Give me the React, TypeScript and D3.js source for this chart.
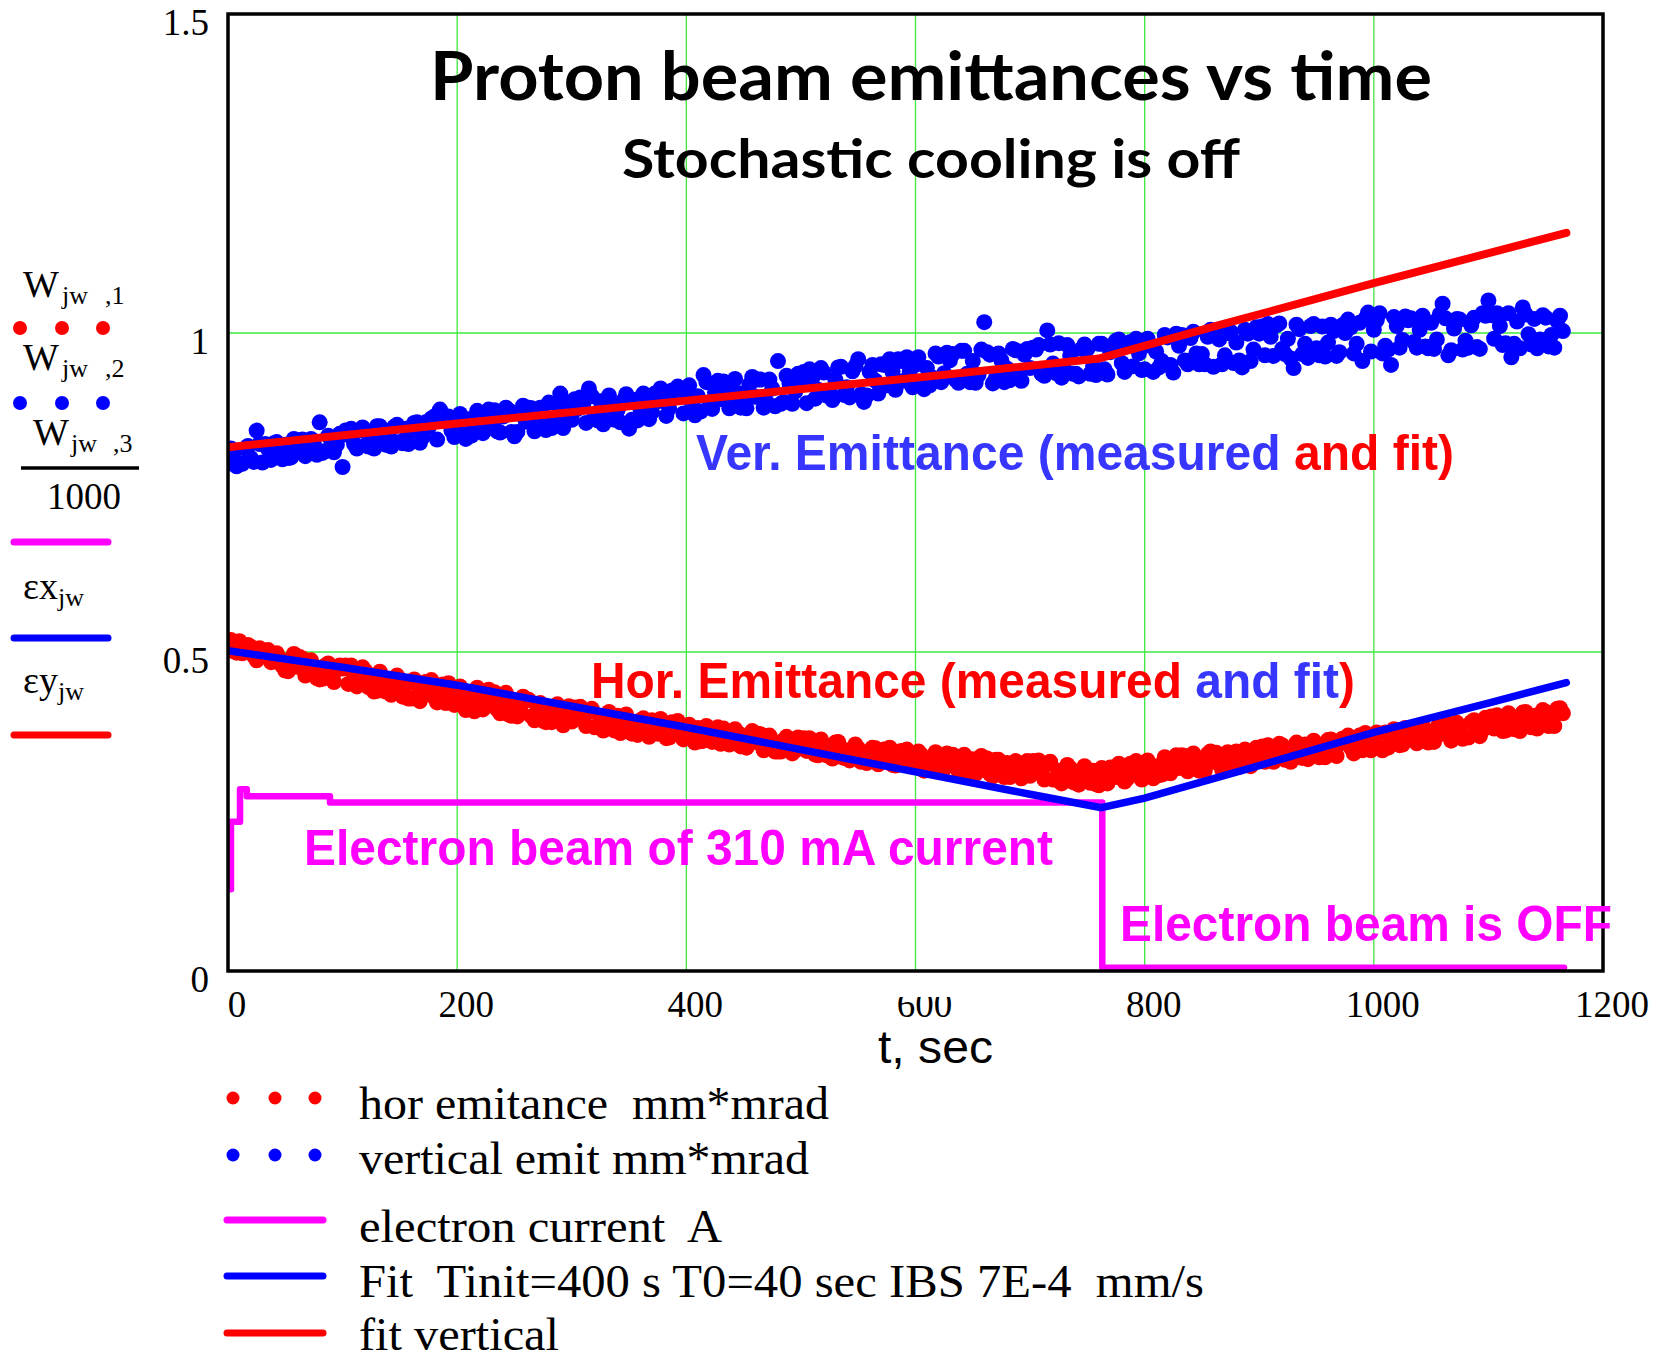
import React, { useRef, useEffect } from "react";
import * as d3 from "d3";

// sampling interval of the measured emittances, seconds
const T_STEP = 2.5;

// W_jw,1 : horizontal emittance measured (plotted as W/1000)
const horMeasured = [
  517, 519, 501, 499, 517, 498, 501, 511, 508, 494, 487, 506, 500, 502, 503, 484, 485, 498, 490, 478,
  471, 470, 489, 497, 477, 492, 490, 463, 468, 487, 478, 459, 457, 458, 479, 482, 467, 453, 472, 479,
  474, 479, 450, 479, 463, 446, 453, 476, 470, 445, 452, 438, 439, 469, 459, 438, 450, 433, 459, 463,
  437, 430, 449, 427, 427, 457, 449, 423, 437, 453, 450, 456, 429, 421, 436, 449, 420, 451, 437, 417,
  438, 446, 416, 409, 430, 411, 407, 444, 430, 410, 417, 441, 431, 437, 410, 404, 420, 436, 402, 400,
  422, 399, 409, 430, 424, 425, 399, 393, 410, 420, 392, 390, 411, 390, 413, 418, 396, 385, 404, 415,
  391, 413, 405, 414, 394, 384, 406, 411, 382, 383, 395, 377, 400, 406, 385, 377, 400, 373, 386, 402,
  391, 372, 375, 370, 393, 396, 379, 367, 393, 392, 372, 395, 380, 365, 366, 390, 383, 392, 372, 363,
  379, 386, 367, 358, 381, 360, 361, 384, 371, 359, 376, 382, 356, 380, 370, 355, 359, 379, 373, 352,
  356, 350, 371, 376, 359, 372, 371, 346, 349, 369, 361, 344, 344, 344, 362, 367, 356, 341, 346, 366,
  362, 365, 345, 365, 354, 339, 338, 363, 355, 338, 344, 333, 358, 359, 336, 334, 346, 330, 338, 355,
  349, 328, 330, 326, 342, 350, 349, 324, 330, 347, 337, 350, 323, 322, 340, 345, 329, 347, 341, 320,
  324, 344, 339, 314, 318, 316, 332, 343, 335, 316, 317, 341, 328, 339, 321, 313, 336, 339, 316, 310,
  332, 309, 314, 337, 326, 333, 309, 305, 331, 331, 316, 304, 326, 304, 308, 329, 319, 302, 322, 329,
  306, 329, 321, 330, 310, 300, 324, 328, 300, 300, 314, 294, 303, 323, 318, 296, 295, 292, 310, 321,
  298, 295, 314, 293, 291, 318, 310, 294, 319, 319, 304, 325, 313, 297, 302, 325, 320, 329, 311, 300,
  325, 330, 309, 302, 321, 307, 308, 335, 330, 310, 323, 338, 318, 338, 337, 313, 317, 341, 331, 314,
  321, 314, 340, 344, 328, 342, 339, 316, 319, 343, 338, 318, 344, 320, 326, 347, 339, 321, 332, 350,
  347, 352, 328, 354, 346, 328, 337, 356, 354, 331, 336, 328, 346, 358, 336, 334, 355, 332, 349, 361,
  341, 335, 355, 335, 362, 363, 339, 337, 356, 364, 363, 369, 350, 341, 364, 369, 346, 373, 363, 346,
  366, 374, 351, 346, 374, 350, 360, 379, 367, 354, 355, 381, 375, 381, 362, 357, 380, 385, 369, 358,
  363, 359, 381, 389, 372, 387, 388, 361, 369, 389, 383, 364, 367, 366, 390, 393, 383, 368, 378, 397,
  395, 399, 380, 401, 391, 376, 377, 404, 398, 379, 389, 376, 405, 406, 384, 382, 400, 380, 392, 409,
  406, 384, 393, 384, 411, 412, 404,
];

// W_jw,2 : vertical emittance measured
const verMeasured = [
  795, 819, 812, 791, 794, 795, 819, 823, 804, 798, 847, 826, 797, 826, 818, 801, 827, 829, 807, 802,
  825, 804, 805, 834, 823, 832, 833, 807, 813, 834, 825, 809, 860, 812, 815, 839, 832, 813, 825, 842,
  790, 847, 840, 850, 826, 819, 847, 852, 824, 822, 840, 819, 854, 854, 830, 825, 842, 822, 853, 856,
  829, 827, 850, 826, 842, 859, 860, 828, 837, 860, 852, 866, 869, 833, 880, 864, 862, 869, 847, 837,
  859, 873, 842, 834, 865, 839, 853, 878, 872, 843, 849, 880, 861, 879, 846, 844, 869, 883, 879, 845,
  838, 845, 873, 886, 861, 883, 882, 846, 856, 883, 871, 848, 891, 851, 863, 888, 905, 851, 870, 891,
  864, 896, 881, 899, 888, 859, 913, 901, 870, 863, 893, 857, 865, 902, 886, 864, 879, 860, 894, 904,
  850, 864, 895, 863, 880, 905, 902, 865, 876, 905, 893, 913, 908, 870, 882, 910, 899, 916, 913, 874,
  906, 918, 885, 871, 901, 877, 934, 923, 884, 881, 907, 925, 896, 924, 917, 882, 893, 928, 906, 883,
  894, 882, 919, 931, 900, 927, 927, 883, 892, 927, 913, 885, 956, 889, 892, 933, 921, 889, 908, 936,
  923, 939, 890, 943, 930, 897, 911, 945, 938, 902, 909, 895, 927, 946, 947, 903, 915, 899, 940, 948,
  959, 904, 892, 902, 939, 950, 925, 905, 951, 950, 918, 959, 939, 911, 959, 956, 925, 962, 940, 915,
  950, 962, 921, 912, 945, 918, 930, 968, 963, 923, 937, 969, 957, 967, 927, 922, 972, 972, 936, 923,
  956, 922, 934, 974, 1017, 970, 966, 921, 929, 968, 957, 923, 944, 926, 975, 973, 937, 925, 966, 975,
  945, 977, 974, 981, 936, 933, 1004, 982, 952, 937, 984, 930, 943, 981, 964, 936, 936, 932, 975, 982,
  975, 936, 948, 934, 983, 983, 943, 935, 970, 981, 988, 990, 953, 939, 981, 986, 948, 991, 968, 942,
  943, 991, 980, 939, 971, 946, 956, 997, 993, 950, 938, 999, 980, 997, 957, 951, 992, 1002, 968, 951,
  967, 951, 994, 1005, 947, 1000, 990, 951, 965, 1000, 1002, 953, 985, 957, 946, 1005, 999, 956, 974, 1009,
  999, 1010, 965, 1014, 994, 964, 1012, 1015, 975, 967, 991, 960, 945, 1013, 1006, 967, 983, 961, 1011, 1014,
  976, 965, 1010, 963, 985, 1013, 1003, 964, 970, 1012, 1000, 1021, 1009, 968, 983, 1016, 956, 1022, 1032, 971,
  1005, 1020, 1031, 968, 980, 974, 950, 1025, 1011, 977, 989, 1026, 1020, 1023, 986, 977, 1005, 1027, 979, 976,
  1016, 975, 990, 1029, 1046, 1023, 965, 973, 1007, 1022, 1021, 974, 988, 977, 1012, 1024, 978, 975, 1031, 1027,
  1051, 1028, 991, 1031, 1011, 981, 984, 1031, 962, 983, 1018, 976, 1040, 1029, 998, 982, 1022, 976, 990, 1028,
  1024, 979, 997, 977, 1019, 1027, 1003,
];

// W_jw,3 : electron current (A), step trace
const curTime = [2.6, 2.6, 10.5, 16.4, 89, 763, 1166];
const curValue = [0.128, 0.234, 0.285, 0.274, 0.264, 0.005, 0.005];

// εx_jw : horizontal fit
const horFitTime = [0, 100, 200, 300, 400, 500, 600, 700, 762, 800, 900, 1000, 1100, 1168];
const horFitValue = [0.502, 0.476, 0.448, 0.415, 0.382, 0.347, 0.312, 0.277, 0.256, 0.271, 0.322, 0.374, 0.42, 0.452];

// εy_jw : vertical fit
const verFitTime = [0, 200, 400, 600, 760, 860, 1000, 1168];
const verFitValue = [0.821, 0.858, 0.894, 0.93, 0.96, 1.01, 1.078, 1.157];

const xTicks = [0, 200, 400, 600, 800, 1000, 1200];
const yTicks = [0, 0.5, 1, 1.5];
const xGrid = [200, 400, 600, 800, 1000];
const yGrid = [0.5, 1];

const bottomLegend = [
  "hor emitance  mm*mrad",
  "vertical emit mm*mrad",
  "electron current  A",
  "Fit  Tinit=400 s T0=40 sec IBS 7E-4  mm/s",
  "fit vertical",
];

const RED = "#ff0000";
const BLUE = "#0000ff";
const MAG = "#ff00ff";
const TXTBLUE = "#3636ff";
const SERIF = "'Liberation Serif', 'Times New Roman', serif";
const SANS = "'Liberation Sans', Arial, sans-serif";

export default function App() {
  const svgRef = useRef(null);

  useEffect(() => {
    const svg = d3.select(svgRef.current);
    svg.selectAll("*").remove();

    const x = d3.scaleLinear().domain([0, 1200]).range([228, 1603]);
    const y = d3.scaleLinear().domain([0, 1.5]).range([971, 14]);

    svg.append("rect").attr("width", 1654).attr("height", 1359).attr("fill", "#fff");

    svg
      .append("defs")
      .append("clipPath")
      .attr("id", "plotClip")
      .append("rect")
      .attr("x", x(0))
      .attr("y", y(1.5))
      .attr("width", x(1200) - x(0))
      .attr("height", y(0) - y(1.5));

    // grid
    const grid = svg.append("g").attr("stroke", "#3ee83e").attr("stroke-width", 1.3);
    xGrid.forEach((v) => {
      grid.append("line").attr("x1", x(v)).attr("x2", x(v)).attr("y1", y(0)).attr("y2", y(1.5));
    });
    yGrid.forEach((v) => {
      grid.append("line").attr("x1", x(0)).attr("x2", x(1200)).attr("y1", y(v)).attr("y2", y(v));
    });

    const plot = svg.append("g").attr("clip-path", "url(#plotClip)");

    // measured points
    const drawDots = (vals, color) => {
      plot
        .append("g")
        .selectAll("circle")
        .data(vals)
        .enter()
        .append("circle")
        .attr("cx", (d, i) => x(i * T_STEP))
        .attr("cy", (d) => y(d / 1000))
        .attr("r", 8)
        .attr("fill", color);
    };
    drawDots(horMeasured, RED);
    drawDots(verMeasured, BLUE);

    // electron current
    const cur = d3
      .line()
      .x((d) => x(d[0]))
      .y((d) => y(d[1]))
      .curve(d3.curveStepAfter);
    plot
      .append("path")
      .attr("d", cur(curTime.map((t, i) => [t, curValue[i]])))
      .attr("fill", "none")
      .attr("stroke", MAG)
      .attr("stroke-width", 6.5)
      .attr("stroke-linecap", "round")
      .attr("stroke-linejoin", "round");

    const fitLine = d3
      .line()
      .x((d) => x(d[0]))
      .y((d) => y(d[1]));
    plot
      .append("path")
      .attr("d", fitLine(horFitTime.map((t, i) => [t, horFitValue[i]])))
      .attr("fill", "none")
      .attr("stroke", BLUE)
      .attr("stroke-width", 7.5)
      .attr("stroke-linecap", "round");
    plot
      .append("path")
      .attr("d", fitLine(verFitTime.map((t, i) => [t, verFitValue[i]])))
      .attr("fill", "none")
      .attr("stroke", RED)
      .attr("stroke-width", 8)
      .attr("stroke-linecap", "round");

    // frame
    svg
      .append("rect")
      .attr("x", x(0))
      .attr("y", y(1.5))
      .attr("width", x(1200) - x(0))
      .attr("height", y(0) - y(1.5))
      .attr("fill", "none")
      .attr("stroke", "#000")
      .attr("stroke-width", 3.5);

    // tick labels
    yTicks.forEach((v) => {
      svg
        .append("text")
        .attr("x", 209)
        .attr("y", y(v) + 21)
        .attr("text-anchor", "end")
        .attr("font-family", SERIF)
        .attr("font-size", 37)
        .text(String(v));
    });
    xTicks.forEach((v) => {
      svg
        .append("text")
        .attr("x", x(v) + 9)
        .attr("y", 1017)
        .attr("text-anchor", "middle")
        .attr("font-family", SERIF)
        .attr("font-size", 37)
        .text(String(v));
    });
    // the "600" label is partly hidden in the original
    svg.append("rect").attr("x", x(600) - 30).attr("y", 984).attr("width", 70).attr("height", 13).attr("fill", "#fff");

    const txt = (sx, sy, str, opts) => {
      const t = svg
        .append("text")
        .attr("x", sx)
        .attr("y", sy)
        .attr("font-family", opts.family || SANS)
        .attr("font-size", opts.size)
        .attr("font-weight", opts.weight || "normal")
        .attr("fill", opts.fill || "#000")
        .attr("text-anchor", opts.anchor || "start");
      if (opts.len) t.attr("textLength", opts.len).attr("lengthAdjust", "spacingAndGlyphs");
      if (str != null) t.text(str);
      return t;
    };

    // titles
    const TITLE_FONT = "Lato, 'Open Sans', sans-serif";
    txt(931, 100, "Proton beam emittances vs time", { family: TITLE_FONT, size: 66, weight: 700, anchor: "middle", len: 1002 });
    txt(931, 178, "Stochastic cooling is off", { family: TITLE_FONT, size: 54, weight: 700, anchor: "middle", len: 618 });

    // annotations
    const ver = txt(696, 470, null, { size: 50, weight: 700, len: 758 });
    ver.append("tspan").attr("fill", TXTBLUE).text("Ver. Emittance (measured ");
    ver.append("tspan").attr("fill", RED).text("and fit)");

    const hor = txt(591, 698, null, { size: 50, weight: 700, len: 764 });
    hor.append("tspan").attr("fill", RED).text("Hor. Emittance (measured ");
    hor.append("tspan").attr("fill", TXTBLUE).text("and fit");
    hor.append("tspan").attr("fill", RED).text(")");

    txt(304, 865, "Electron beam of 310 mA current", { size: 50, weight: 700, fill: MAG, len: 749 });
    txt(1120, 941, "Electron beam is OFF", { size: 50, weight: 700, fill: MAG, len: 492 });

    txt(878, 1063, "t, sec", { size: 46, len: 115 });

    // left legend (Mathcad y-axis expressions)
    const sub = (bx, by, main, s1, s1x, s2, s2x) => {
      const t = txt(bx, by, null, { family: SERIF, size: 38 });
      t.append("tspan").text(main);
      t.append("tspan").attr("x", s1x).attr("y", by + 7).attr("font-size", 26).text(s1);
      if (s2) t.append("tspan").attr("x", s2x).attr("y", by + 7).attr("font-size", 26).text(s2);
    };
    sub(23, 297, "W", "jw", 62, ",1", 105);
    sub(23, 370, "W", "jw", 62, ",2", 105);
    sub(33, 445, "W", "jw", 71, ",3", 113);
    svg.append("line").attr("x1", 21).attr("x2", 139).attr("y1", 468).attr("y2", 468).attr("stroke", "#000").attr("stroke-width", 3.5);
    txt(47, 509, "1000", { family: SERIF, size: 37 });
    sub(23, 599, "εx", "jw", 58);
    sub(23, 693, "εy", "jw", 58);

    const dotRow = (cy, xs, color, r) => {
      xs.forEach((cx) => svg.append("circle").attr("cx", cx).attr("cy", cy).attr("r", r).attr("fill", color));
    };
    const legLine = (x1, x2, ly, color) => {
      svg
        .append("line")
        .attr("x1", x1)
        .attr("x2", x2)
        .attr("y1", ly)
        .attr("y2", ly)
        .attr("stroke", color)
        .attr("stroke-width", 7)
        .attr("stroke-linecap", "round");
    };
    dotRow(328, [20, 62, 103], RED, 7);
    dotRow(403, [20, 62, 103], BLUE, 7);
    legLine(14, 108, 542, MAG);
    legLine(14, 108, 638, BLUE);
    legLine(14, 108, 735, RED);

    // bottom legend
    dotRow(1098, [233, 275, 315], RED, 6.5);
    dotRow(1155, [233, 275, 315], BLUE, 6.5);
    legLine(227, 323, 1220, MAG);
    legLine(227, 323, 1276, BLUE);
    legLine(227, 323, 1333, RED);
    const legY = [1119, 1174, 1242, 1297, 1350];
    const legLen = [470, 450, 363, 845, 200];
    bottomLegend.forEach((s, i) => {
      txt(359, legY[i], s, { family: SERIF, size: 46, len: legLen[i] }).attr("xml:space", "preserve");
    });
  }, []);

  return (
    <svg
      ref={svgRef}
      width={1654}
      height={1359}
      style={{ position: "absolute", left: 0, top: 0, display: "block" }}
    />
  );
}
